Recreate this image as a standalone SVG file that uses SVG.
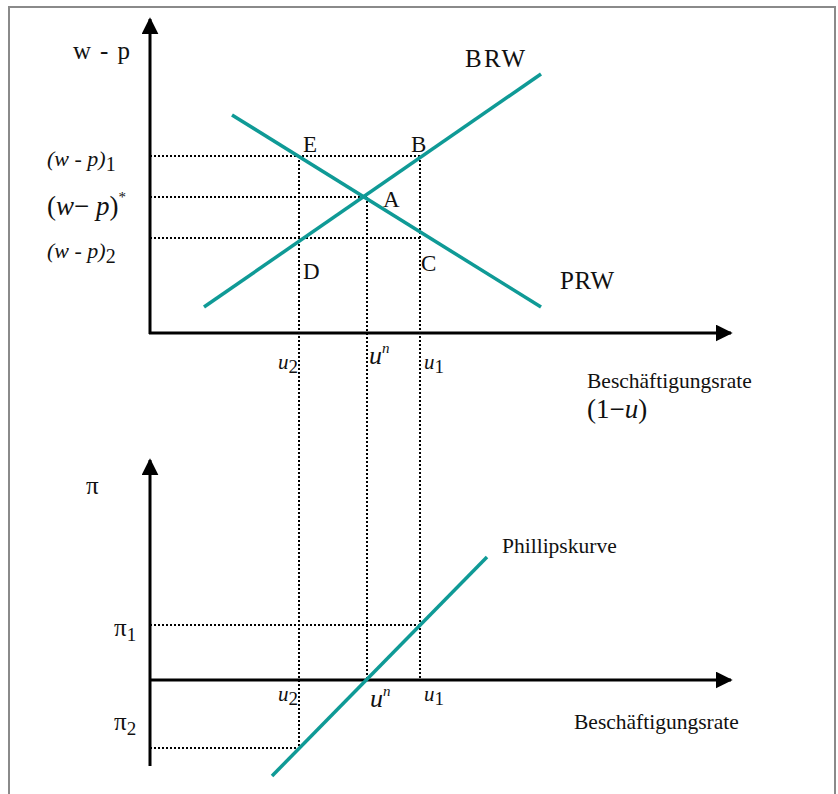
<svg xmlns="http://www.w3.org/2000/svg" width="838" height="794" viewBox="0 0 838 794">
<style>
text{font-family:"Liberation Serif","DejaVu Serif",serif;fill:#111;}
.lbl{font-size:21.5px;}
.pt{font-size:23px;}
.big{font-size:25px;}
.it{font-style:italic;}
.axis{stroke:#000;stroke-width:3;fill:none;}
.dot{stroke:#000;stroke-width:2;stroke-dasharray:2 2;fill:none;}
.curve{stroke:#0f9a96;stroke-width:3.5;fill:none;}
</style>
<defs>
<marker id="ah" viewBox="0 0 10 10" refX="9" refY="5" markerWidth="17" markerHeight="17" markerUnits="userSpaceOnUse" orient="auto">
<path d="M0,0 L10,5 L0,10 Z" fill="#000"/>
</marker>
</defs>
<rect x="9" y="7" width="826" height="800" fill="#fff" stroke="#8a8a8a" stroke-width="2"/>
<g id="connectors">
<path class="dot" d="M150,156 H420 M150,197 H367 M150,238 H420"/>
<path class="dot" d="M299,156 V748 M367,197 V680 M420,156 V680"/>
<path class="dot" d="M150,625 H420 M150,748 H299"/>
</g>
<g id="axes-top">
<path class="axis" d="M150,334 V19" marker-end="url(#ah)"/>
<path class="axis" d="M149,333 H731" marker-end="url(#ah)"/>
</g>
<g id="axes-bottom">
<path class="axis" d="M150,766 V460" marker-end="url(#ah)"/>
<path class="axis" d="M149,680 H731" marker-end="url(#ah)"/>
</g>
<g id="BRW">
<line class="curve" x1="204" y1="307" x2="541" y2="74"/>
<text class="big" x="465" y="67" textLength="60">BRW</text>
</g>
<g id="PRW">
<line class="curve" x1="232" y1="115" x2="541" y2="307"/>
<text class="big" x="560" y="289" textLength="54">PRW</text>
</g>
<g id="Phillipskurve">
<line class="curve" x1="272" y1="776" x2="487" y2="557"/>
<text class="lbl" x="502" y="553">Phillipskurve</text>
</g>
<g id="points">
<text class="pt" x="303" y="152">E</text>
<text class="pt" x="411" y="152">B</text>
<text class="pt" x="383" y="207">A</text>
<text class="pt" x="303" y="279">D</text>
<text class="pt" x="421" y="271">C</text>
</g>
<g id="y-labels-top">
<text class="big" x="73" y="59" textLength="57">w - p</text>
<text x="47" y="166" font-size="22"><tspan class="it">(w - p)</tspan><tspan font-size="20" dy="5">1</tspan></text>
<text x="47" y="215" font-size="27"><tspan>(</tspan><tspan class="it">w</tspan><tspan>− </tspan><tspan class="it">p</tspan><tspan>)</tspan><tspan font-size="15" dy="-13">*</tspan></text>
<text x="47" y="258" font-size="22"><tspan class="it">(w - p)</tspan><tspan font-size="20" dy="5">2</tspan></text>
</g>
<g id="x-labels-top">
<text x="278" y="369" font-size="21"><tspan class="it">u</tspan><tspan font-size="19" dy="4">2</tspan></text>
<text x="369" y="364" font-size="26"><tspan class="it">u</tspan><tspan class="it" font-size="15" dy="-11">n</tspan></text>
<text x="424" y="369" font-size="21"><tspan class="it">u</tspan><tspan font-size="19" dy="4">1</tspan></text>
<text class="lbl" x="587" y="388">Beschäftigungsrate</text>
<text x="587" y="418" font-size="27">(1−<tspan class="it">u</tspan>)</text>
</g>
<g id="labels-bottom">
<text x="86" y="494" font-size="25">π</text>
<text x="114" y="636" font-size="25">π<tspan font-size="19" dy="5">1</tspan></text>
<text x="114" y="730" font-size="25">π<tspan font-size="19" dy="5">2</tspan></text>
<text x="278" y="701" font-size="21"><tspan class="it">u</tspan><tspan font-size="19" dy="4">2</tspan></text>
<text x="370" y="707" font-size="26"><tspan class="it">u</tspan><tspan class="it" font-size="15" dy="-11">n</tspan></text>
<text x="424" y="701" font-size="21"><tspan class="it">u</tspan><tspan font-size="19" dy="4">1</tspan></text>
<text class="lbl" x="574" y="729">Beschäftigungsrate</text>
</g>
</svg>
